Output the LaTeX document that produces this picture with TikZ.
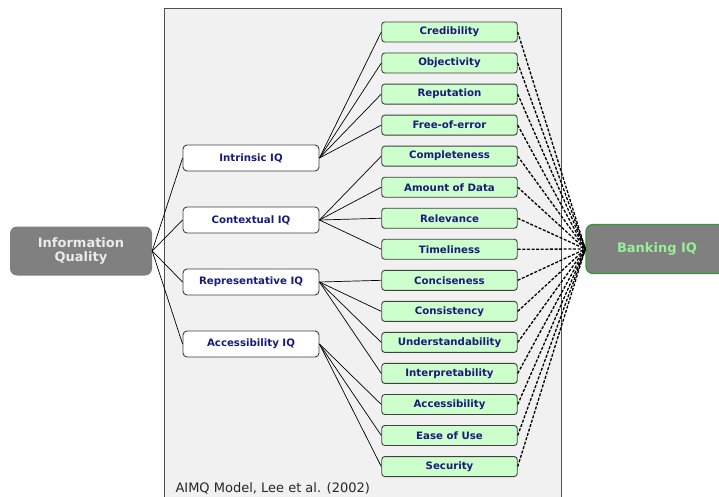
\documentclass[tikz,border=0pt]{standalone}
\usepackage{fontspec}
\setmainfont{DejaVu Sans}
\definecolor{navy}{HTML}{1A1A7A}
\definecolor{panelbg}{HTML}{F1F1F1}
\definecolor{panelline}{HTML}{505050}
\definecolor{dimfill}{HTML}{CCFFCC}
\definecolor{bankgreen}{HTML}{339933}
\definecolor{banktext}{HTML}{99EE99}
\definecolor{boxgray}{HTML}{808080}
\begin{document}
\begin{tikzpicture}[x=1pt,y=-1pt,
  dimbox/.style={draw=black!75, line width=0.9pt, fill=dimfill, rounded corners=3pt,
    minimum width=135.5pt, minimum height=20pt, inner sep=0pt,
    font=\fontsize{10.2}{12}\selectfont\bfseries, text=navy},
  catbox/.style={draw=black!75, line width=0.9pt, fill=white, rounded corners=4pt,
    minimum width=136pt, minimum height=26pt, inner sep=0pt,
    font=\fontsize{10.2}{12}\selectfont\bfseries, text=navy},
  bigbox/.style={fill=boxgray, rounded corners=7pt, minimum width=142pt, minimum height=49pt,
    inner sep=0pt, align=center, font=\fontsize{13}{14.5}\selectfont\bfseries},
  solidlink/.style={draw=black, line width=0.7pt},
  dashlink/.style={draw=black, line width=1.3pt, dash pattern=on 3pt off 1.6pt}
]
\useasboundingbox (0,0) rectangle (719,497);
\clip (0,0) rectangle (719,497);
% panel
\fill[panelbg] (164,9) rectangle (561,500);
\draw[panelline, line width=1pt] (164,500) -- (164,9) -- (561,9) -- (561,500);
\node[anchor=base west, font=\fontsize{13}{15}\selectfont, text=black!85] (cap) at (172,492) {AIMQ Model, Lee et al. (2002)};

% main nodes
\node[bigbox, text=white!92!black] (iq) at (81,251) {Information\\Quality};
\node[bigbox, draw=bankgreen, line width=1.3pt, text=banktext] (bank) at (657,249) {Banking IQ};

% categories
\node[catbox] (intr) at (251,158) {Intrinsic IQ};
\node[catbox] (cont) at (251,220) {Contextual IQ};
\node[catbox] (repr) at (251,282) {Representative IQ};
\node[catbox] (acc) at (251,344) {Accessibility IQ};

% dimensions
\foreach \n/\t [count=\i from 0] in {d1/Credibility, d2/Objectivity, d3/Reputation, d4/Free-of-error,
  d5/Completeness, d6/Amount of Data, d7/Relevance, d8/Timeliness, d9/Conciseness,
  d10/Consistency, d11/Understandability, d12/Interpretability, d13/Accessibility,
  d14/Ease of Use, d15/Security}
  \node[dimbox] (\n) at (449.5,{32+31.04*\i}) {\t};

% links
\foreach \c in {intr,cont,repr,acc}
  \draw[solidlink] (iq.east) -- (\c.west);
\foreach \d in {d1,d2,d3,d4} \draw[solidlink] (intr.east) -- (\d.west);
\foreach \d in {d5,d6,d7,d8} \draw[solidlink] (cont.east) -- (\d.west);
\foreach \d in {d9,d10,d11,d12} \draw[solidlink] (repr.east) -- (\d.west);
\foreach \d in {d13,d14,d15} \draw[solidlink] (acc.east) -- (\d.west);
\foreach \d in {d1,d2,d3,d4,d5,d6,d7,d8,d9,d10,d11,d12,d13,d14,d15}
  \draw[dashlink] (\d.east) -- (bank.west);
\end{tikzpicture}
\end{document}
